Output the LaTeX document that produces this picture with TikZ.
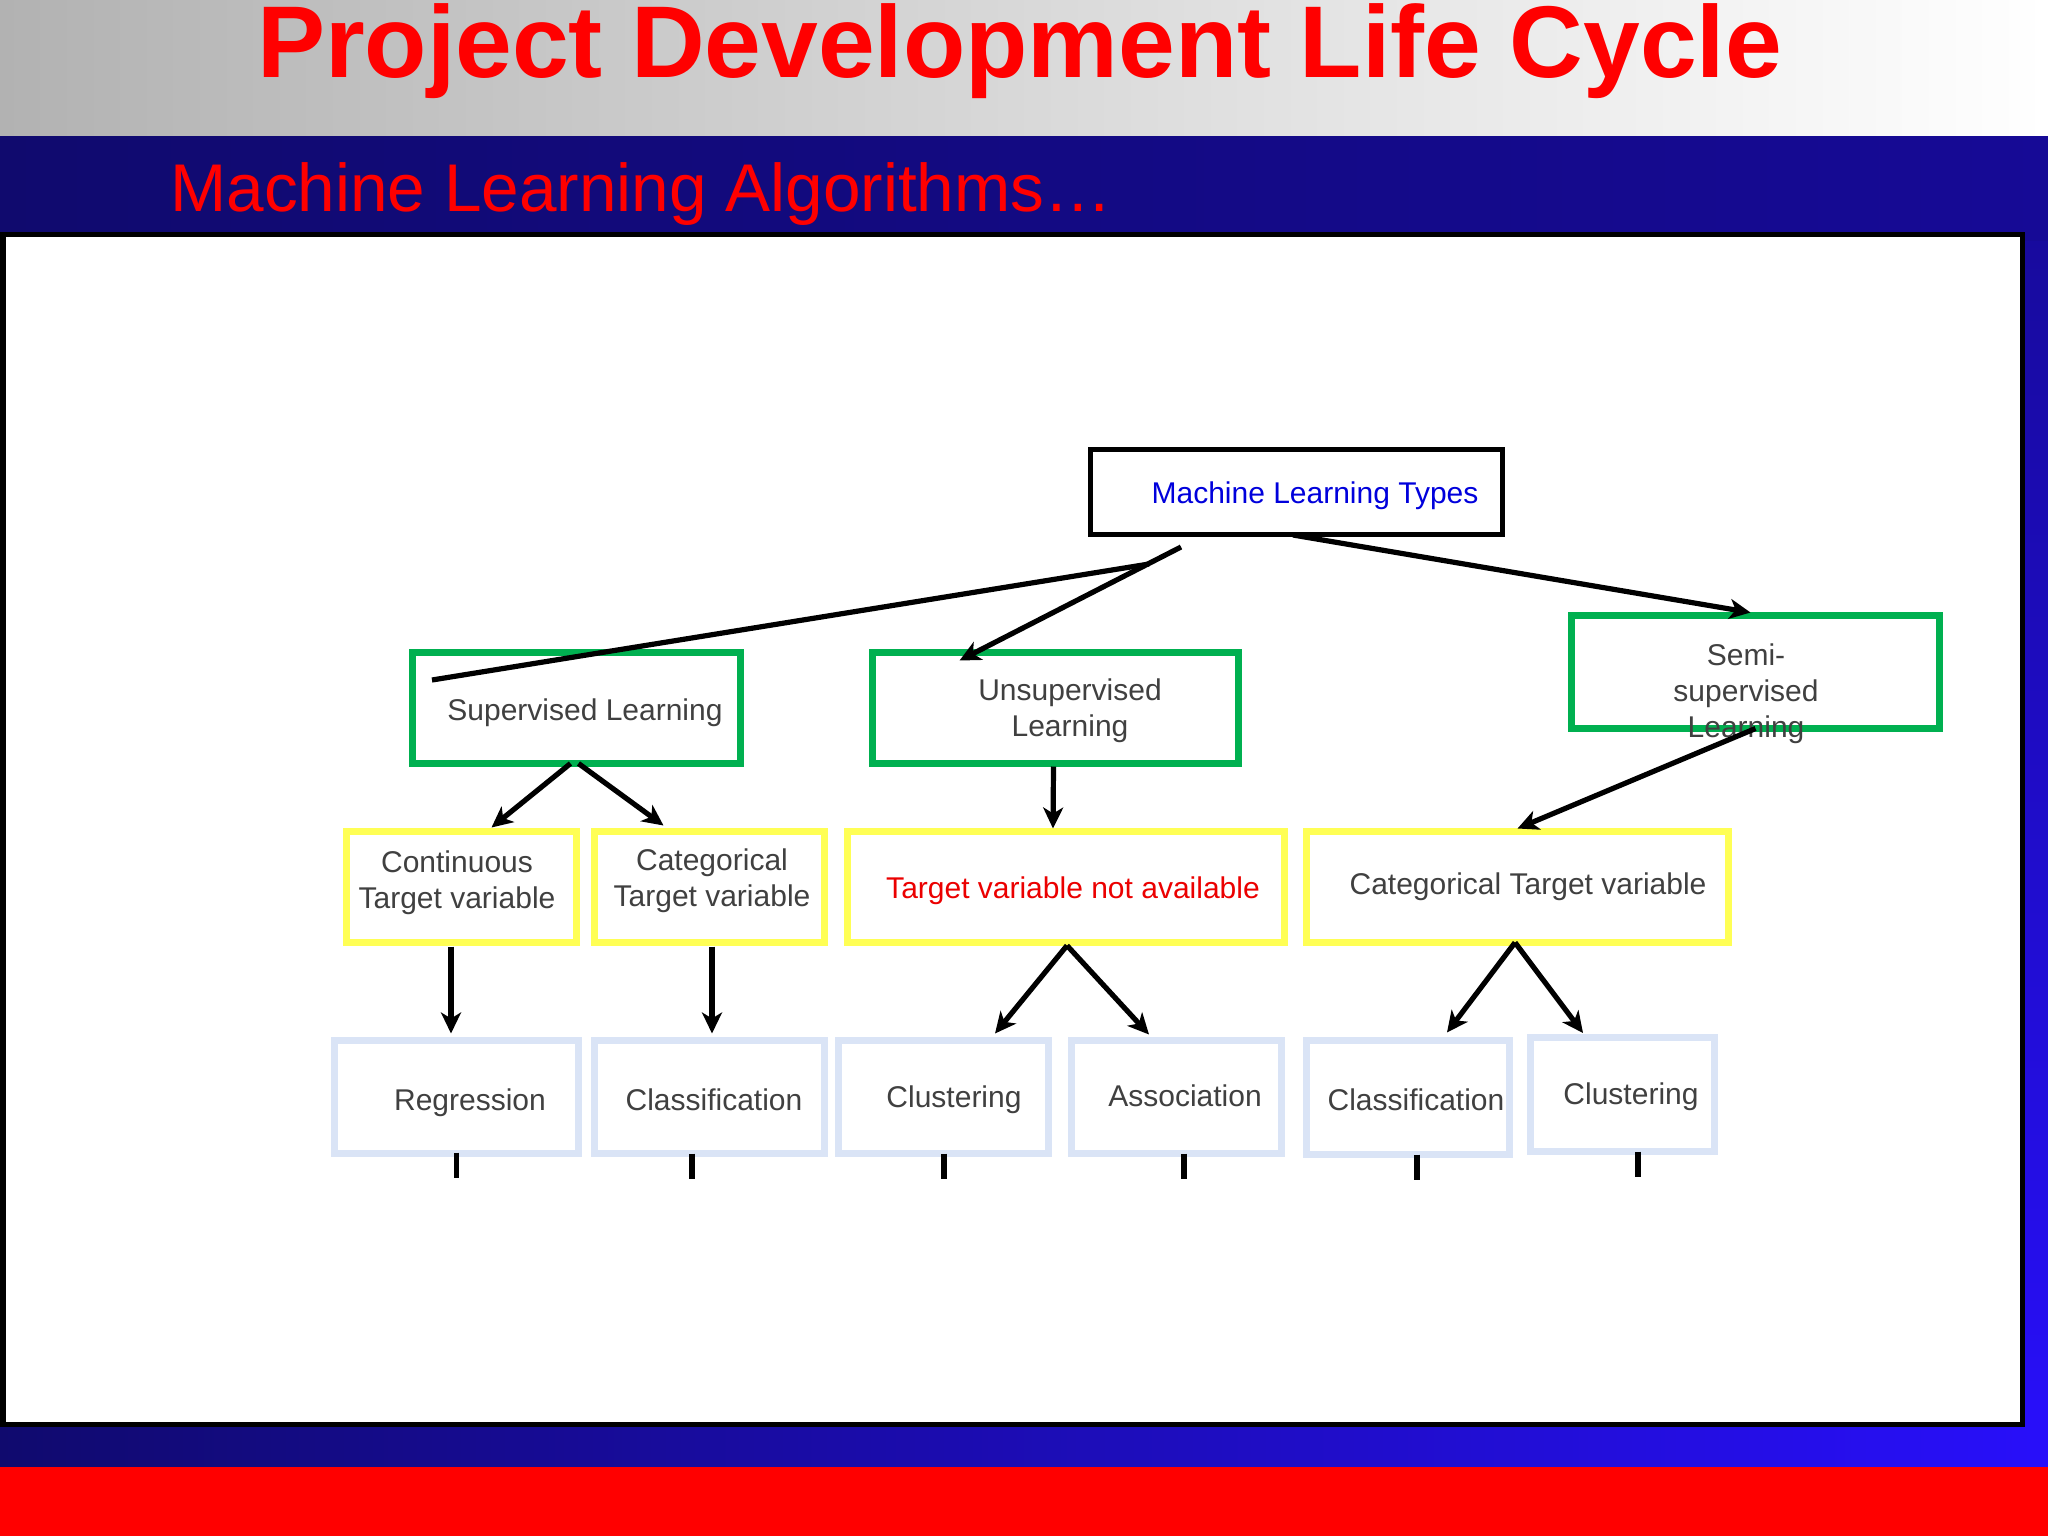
\documentclass[tikz,border=0pt]{standalone}
\usepackage{fontspec}
\setmainfont{Liberation Sans}
\usetikzlibrary{arrows.meta,calc}
\definecolor{hdrgray}{RGB}{178,178,178}
\definecolor{navyL}{RGB}{16,10,110}
\definecolor{navyM}{RGB}{22,10,150}
\definecolor{navyR}{RGB}{40,15,250}
\definecolor{boxgreen}{RGB}{0,176,80}
\definecolor{boxyellow}{RGB}{255,255,85}
\definecolor{boxblue}{RGB}{218,228,246}
\definecolor{txtgray}{RGB}{64,64,64}
\definecolor{rootblue}{RGB}{0,0,220}
\definecolor{tnared}{RGB}{235,0,0}
\newcommand{\mlines}[1]{\begin{tabular}[t]{@{}c@{}}#1\end{tabular}}
\tikzset{
 box/.style={draw, fill=white, inner sep=0pt, outer sep=0pt, rectangle},
 rootbox/.style={box, draw=black, line width=2.5bp},
 greenbox/.style={box, draw=boxgreen, line width=3.5bp},
 yellowbox/.style={box, draw=boxyellow, line width=3.5bp},
 bluebox/.style={box, draw=boxblue, line width=3.5bp},
 lbl/.style={inner sep=0pt, outer sep=0pt, text=txtgray, font=\fontsize{15bp}{18bp}\selectfont, anchor=base},
 conn/.style={line width=2.6bp, -{Stealth[length=10.5bp,width=10bp,inset=3bp]}},
 plainconn/.style={line width=2.6bp},
 tickline/.style={line width=2.6bp},
}
\begin{document}
\begin{tikzpicture}[x=0.5bp,y=-0.5bp]
\useasboundingbox (0,0) rectangle (2048,1536);
% background
\fill[left color=hdrgray, right color=white] (0,0) rectangle (2048,136);
\fill[top color=navyM, bottom color=navyR] (0,136) rectangle (2048,1467);
\fill[left color=navyL, right color=navyM] (0,136) rectangle (2048,240);
\fill[left color=navyL, right color=navyR] (0,1400) rectangle (2048,1467);
\fill[red] (0,1467) rectangle (2048,1536);
\draw[line width=2.5bp, fill=white] (3,234) rectangle (2022,1424);
% titles
\node[anchor=base, text=red, inner sep=0pt, font=\fontsize{51bp}{60bp}\selectfont\bfseries] (title) at (1019.5,77) {Project Development Life Cycle};
\node[anchor=base west, text=red, inner sep=0pt, font=\fontsize{33.75bp}{40bp}\selectfont] (subtitle) at (170,211) {Machine Learning Algorithms…};
% boxes
\node[rootbox, minimum width=206bp, minimum height=42.5bp] (root) at (1296,491.5) {};
\node[greenbox, minimum width=164bp, minimum height=55.5bp] (sup) at (576.5,708) {};
\node[greenbox, minimum width=183bp, minimum height=55.5bp] (unsup) at (1055.5,708) {};
\node[greenbox, minimum width=184bp, minimum height=56.5bp] (semi) at (1755.5,672) {};
\node[yellowbox, minimum width=115bp, minimum height=55.5bp] (cont) at (461.5,887) {};
\node[yellowbox, minimum width=115bp, minimum height=55.5bp] (catL) at (709.5,887) {};
\node[yellowbox, minimum width=218.5bp, minimum height=55.5bp] (tna) at (1066,887) {};
\node[yellowbox, minimum width=211bp, minimum height=55.5bp] (catR) at (1517.5,887) {};
\node[bluebox, minimum width=122bp, minimum height=56.5bp] (reg) at (456.5,1097) {};
\node[bluebox, minimum width=115bp, minimum height=56.5bp] (clsL) at (709.5,1097) {};
\node[bluebox, minimum width=105bp, minimum height=56.5bp] (cluM) at (943.5,1097) {};
\node[bluebox, minimum width=105bp, minimum height=56.5bp] (assoc) at (1176.5,1097) {};
\node[bluebox, minimum width=101.5bp, minimum height=57bp] (clsR) at (1408,1097.5) {};
\node[bluebox, minimum width=92bp, minimum height=57bp] (cluR) at (1622.5,1094.5) {};
% labels
\node[lbl, text=rootblue] (root-t) at (1315,503) {Machine Learning Types};
\node[lbl] (sup-t) at (585,720) {Supervised Learning};
\node[lbl] (unsup-t) at (1070,700) {\mlines{Unsupervised\\Learning}};
\node[lbl] (semi-t) at (1746,665) {\mlines{Semi-\\supervised\\Learning}};
\node[lbl] (cont-t) at (457,872) {\mlines{Continuous\\Target variable}};
\node[lbl] (catL-t) at (712,870) {\mlines{Categorical\\Target variable}};
\node[lbl, text=tnared] (tna-t) at (1073,898) {Target variable not available};
\node[lbl] (catR-t) at (1528,894) {Categorical Target variable};
\node[lbl] (reg-t) at (470,1110) {Regression};
\node[lbl] (clsL-t) at (714,1110) {Classification};
\node[lbl] (cluM-t) at (954,1107) {Clustering};
\node[lbl] (assoc-t) at (1185,1106) {Association};
\node[lbl] (clsR-t) at (1416,1110) {Classification};
\node[lbl] (cluR-t) at (1631,1104) {Clustering};
% connectors
\draw[conn] ($(root.south)+(-3,1)$) -- ($(semi.north)+(-5,-3)$);
\draw[conn] ($(root.south)+(-115,13)$) -- ($(unsup.north)+(-96,8)$);
\draw[plainconn] ($(root.south)+(-147,30)$) -- ($(sup.north west)+(19.5,27.5)$);
\draw[conn] ($(sup.south)+(-6,0)$) -- ($(cont.north)+(30,-4)$);
\draw[conn] ($(sup.south)+(2,0)$) -- ($(catL.north)+(-46,-6)$);
\draw[conn] ($(unsup.south)+(-2,3)$) -- ($(tna.north)+(-13,-3)$);
\draw[conn] ($(semi.south)+(0,0)$) -- ($(catR.north)+(0,-3)$);
\draw[conn] ($(cont.south)+(-10.5,4)$) -- ($(reg.north)+(-5.5,-7)$);
\draw[conn] ($(catL.south)+(2.5,4)$) -- ($(clsL.north)+(2.5,-7)$);
\draw[conn] ($(tna.south)+(1,3)$) -- ($(cluM.north)+(51.5,-7)$);
\draw[conn] ($(tna.south)+(1,3)$) -- ($(assoc.north)+(-27.5,-6)$);
\draw[conn] ($(catR.south)+(-2.5,0)$) -- ($(clsR.north)+(39,-8)$);
\draw[conn] ($(catR.south)+(-2.5,0)$) -- ($(cluR.north)+(-39.5,-4.5)$);
% ticks
\draw[tickline] ($(reg.south)+(0,-1)$) -- ++(0,25);
\draw[tickline] ($(clsL.south)+(-17.5,0)$) -- ++(0,25);
\draw[tickline] ($(cluM.south)+(0.5,0)$) -- ++(0,25);
\draw[tickline] ($(assoc.south)+(7.5,0)$) -- ++(0,25);
\draw[tickline] ($(clsR.south)+(9,0)$) -- ++(0,25);
\draw[tickline] ($(cluR.south)+(15.5,0)$) -- ++(0,25);
\end{tikzpicture}
\end{document}
